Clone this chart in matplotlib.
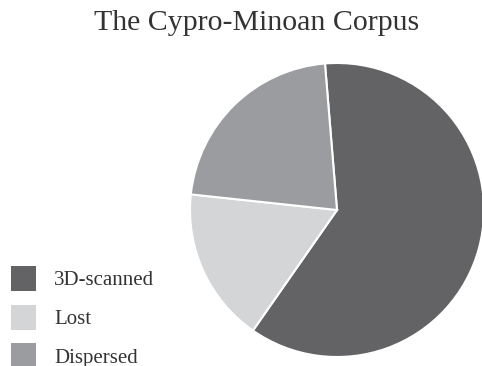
import matplotlib
matplotlib.use("Agg")
import matplotlib.pyplot as plt
from matplotlib.patches import Patch

categories = ["3D-scanned", "Lost", "Dispersed"]
shares = [61, 17, 22]
colors = ["#636365", "#d4d5d7", "#9b9c9f"]

W, H = 482, 366
fig = plt.figure(figsize=(W / 100, H / 100), dpi=100)
plt.rcParams["font.family"] = ["Liberation Serif", "DejaVu Serif"]

cx, cy, r = 337, H - 210, 147
ax = fig.add_axes([(cx - r) / W, (cy - r) / H, 2 * r / W, 2 * r / H])
wedges, _ = ax.pie(shares, colors=colors, startangle=94.7, counterclock=False,
                   wedgeprops=dict(edgecolor="white", linewidth=1.5))
for w in wedges:
    w.set_clip_on(False)
ax.set_xlim(-1, 1)
ax.set_ylim(-1, 1)
ax.set_aspect("equal")
ax.axis("off")

fig.text(256.5 / W, 1 - 30 / H, "The Cypro-Minoan Corpus", ha="center", va="baseline",
         fontsize=21.5, color="#333333")

handles = [Patch(facecolor=c, edgecolor="none") for c in colors]
fig.legend(handles, categories, loc="upper left",
           bbox_to_anchor=(11 / W, 1 - 266 / H), frameon=False, fontsize=15,
           handlelength=1.2, handleheight=1.47, labelspacing=0.65,
           handletextpad=0.87, borderpad=0, borderaxespad=0,
           labelcolor="#333333")

fig.savefig("out.png", dpi=100)
